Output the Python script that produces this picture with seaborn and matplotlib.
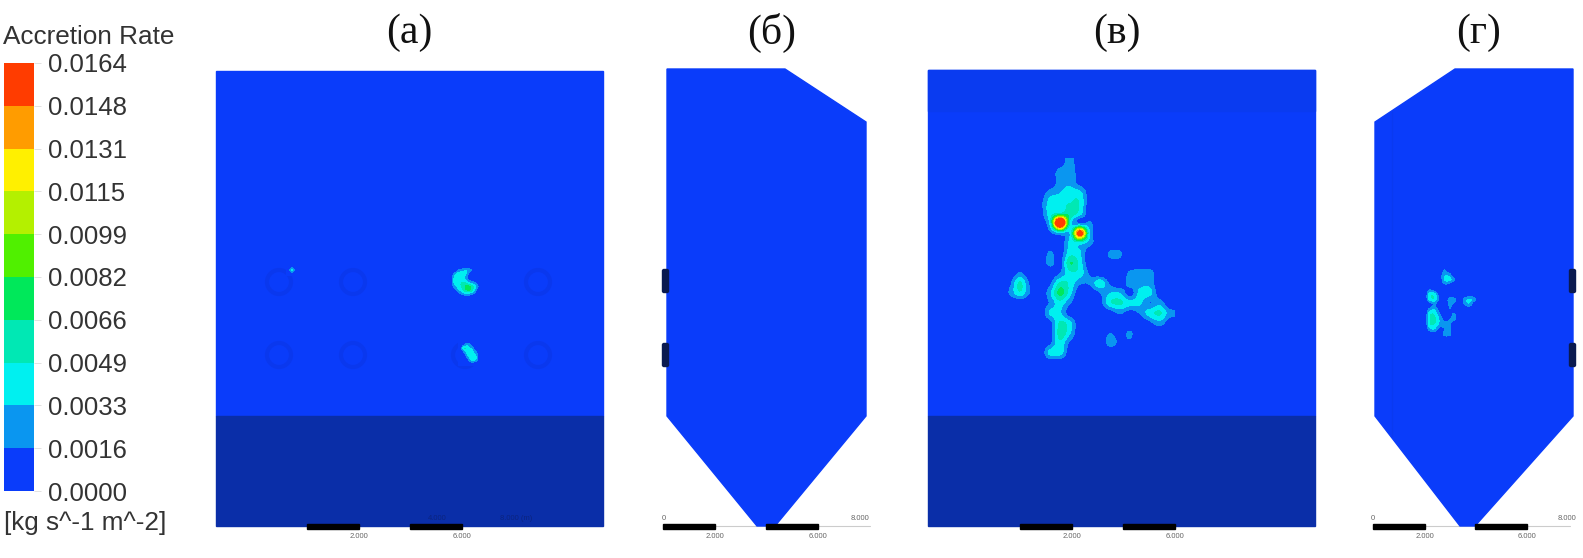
# Encoding: utf-8
"""
    usage:  accretion rate contours on four furnace wall views, with shared legend.
"""
import numpy as np
import seaborn as sns
import matplotlib

matplotlib.use("Agg")
import matplotlib.pyplot as plt
from matplotlib.colors import ListedColormap, BoundaryNorm
from matplotlib.patches import Circle, Polygon, Rectangle, FancyBboxPatch

# legend
legend_title = "Accretion Rate"
legend_unit = "[kg s^-1 m^-2]"
tick_labels = ["0.0000", "0.0016", "0.0033", "0.0049", "0.0066", "0.0082",
               "0.0099", "0.0115", "0.0131", "0.0148", "0.0164"]
band_colors = ["#0a3cfa", "#0a96f0", "#00f0f0", "#00e8b4", "#00e85a",
               "#50f000", "#b4f000", "#fff000", "#ff9c00", "#ff3c00"]
panel_titles = ["(а)", "(б)", "(в)", "(г)"]

# accretion rate, in units of one legend band
tiny_a = [[0, 0.3, 0],
          [0.4, 2.6, 0.4],
          [0, 0.3, 0]]
pacman_a = [[0, 0, 0, 0, 0, 0, 0, 0, 0],
            [0, 0, 1.2, 1.6, 2.0, 1.4, 0.5, 0, 0],
            [0, 1.5, 2.6, 2.8, 2.2, 0.6, 0.2, 0, 0],
            [0, 2.2, 2.8, 2.8, 1.6, 0.3, 0.2, 0, 0],
            [0, 2.4, 2.8, 3.0, 2.8, 1.8, 1.2, 0.4, 0],
            [0, 1.6, 2.6, 3.2, 4.2, 4.0, 2.8, 1.2, 0],
            [0, 0.6, 1.8, 2.8, 4.0, 4.2, 2.6, 0.7, 0],
            [0, 0, 0.6, 1.4, 2.0, 1.8, 1.0, 0, 0],
            [0, 0, 0, 0, 0, 0, 0, 0, 0]]
oval_a = [[0, 0, 0, 0, 0, 0],
          [0, 0.8, 1.6, 0.6, 0, 0],
          [0.2, 3.0, 2.4, 1.8, 0.4, 0],
          [0, 1.4, 2.8, 2.6, 1.3, 0],
          [0, 0.3, 2.2, 2.9, 2.2, 0],
          [0, 0, 1.0, 2.6, 2.0, 0],
          [0, 0, 0, 0.3, 0.2, 0]]
field_c = [
    [0, 0, 0, 0, 0, 0, 0.5, 1.4, 0.3, 0, 0, 0, 0, 0, 0, 0, 0, 0],
    [0, 0, 0, 0, 0, 0.2, 1.6, 1.7, 0.4, 0, 0, 0, 0, 0, 0, 0, 0, 0],
    [0, 0, 0, 0, 0, 0.2, 1.5, 1.8, 0.6, 0, 0, 0, 0, 0, 0, 0, 0, 0],
    [0, 0, 0, 0, 0.2, 1.6, 2.0, 2.6, 2.4, 0.3, 0, 0, 0, 0, 0, 0, 0, 0],
    [0, 0, 0, 0, 0.6, 2.5, 2.6, 3.0, 2.9, 0.2, 0, 0, 0, 0, 0, 0, 0, 0],
    [0, 0, 0, 0, 0.4, 2.6, 3.0, 3.8, 2.6, 0.1, 0, 0, 0, 0, 0, 0, 0, 0],
    [0, 0, 0, 0, 0.3, 2.6, 13.5, 3.0, 1.0, 1.2, 0, 0, 0, 0, 0, 0, 0, 0],
    [0, 0, 0, 0, 0, 0.8, 2.2, 2.2, 10.5, 2.0, 0.1, 0, 0, 0, 0, 0, 0, 0],
    [0, 0, 0, 0, 0, 0.1, 0, 2.4, 2.6, 1.5, 0.1, 0, 0, 0, 0, 0, 0, 0],
    [0, 0, 0, 0, 0, 1.2, 0.4, 2.6, 2.2, 0, 0, 1.2, 1.2, 0, 0, 0, 0, 0],
    [0, 0, 0, 0, 0, 1.4, 0.6, 4.0, 2.6, 0, 0, 0.6, 0.6, 0, 0, 0, 0, 0],
    [0, 0, 1.2, 0, 0, 0.2, 1.0, 2.8, 2.6, 0.8, 0, 0, 0, 1.3, 1.6, 1.6, 0, 0],
    [0, 0.8, 3.2, 0.8, 0, 0.8, 3.2, 2.8, 1.3, 1.2, 2.8, 0.8, 0.1, 1.6, 1.6, 1.6, 0, 0],
    [0, 1.2, 2.8, 1.0, 0, 1.8, 4.4, 2.5, 0, 0.1, 1.0, 2.0, 2.0, 0.5, 2.4, 2.4, 0.3, 0],
    [0, 0, 0, 0, 0, 1.2, 2.6, 1.2, 0, 0, 0.6, 2.8, 3.2, 2.4, 2.2, 1.0, 1.6, 0],
    [0, 0, 0, 0, 0, 2.2, 2.2, 0.4, 0, 0, 0, 0.4, 1.2, 0.5, 1.2, 2.6, 3.2, 1.5],
    [0, 0, 0, 0, 0, 0.6, 3.2, 2.4, 0, 0, 0, 0, 0, 0, 0, 0.8, 1.6, 0.3],
    [0, 0, 0, 0, 0, 0.4, 3.6, 2.2, 0, 0, 0, 1.0, 0.4, 1.2, 0, 0, 0, 0],
    [0, 0, 0, 0, 0, 0.8, 2.8, 0.8, 0, 0, 0, 1.5, 0.7, 0.7, 0, 0, 0, 0],
    [0, 0, 0, 0, 0, 2.4, 2.6, 0.3, 0, 0, 0, 0, 0, 0, 0, 0, 0, 0],
    [0, 0, 0, 0, 0, 0, 0, 0, 0, 0, 0, 0, 0, 0, 0, 0, 0, 0],
]
field_d = [
    [0, 0, 0, 0, 1.0, 0, 0, 0, 0, 0, 0, 0, 0],
    [0, 0, 0, 0.4, 1.8, 1.6, 0, 0, 0, 0, 0, 0, 0],
    [0, 0, 0, 0.2, 2.2, 2.4, 1.2, 0, 0, 0, 0, 0, 0],
    [0, 0, 0, 0, 1.0, 0.8, 0, 0, 0, 0, 0, 0, 0],
    [0, 1.0, 0.6, 0, 0, 0, 0, 0, 0, 0, 0, 0, 0],
    [0, 2.6, 2.6, 0.6, 0, 0, 0, 0, 0, 0.6, 0.4, 0, 0],
    [0, 2.4, 2.8, 0.8, 0, 1.6, 1.4, 0, 1.6, 2.2, 1.4, 0, 0],
    [0, 0.4, 1.2, 0.2, 0, 1.2, 0.8, 0, 1.2, 1.8, 0.2, 0, 0],
    [0, 1.6, 2.0, 0.6, 0, 1.0, 0.4, 0, 0, 0, 0, 0, 0],
    [0, 2.8, 3.0, 1.4, 0, 0.6, 1.2, 0, 0, 0, 0, 0, 0],
    [0, 2.9, 3.2, 2.0, 0.8, 1.0, 1.3, 0, 0, 0, 0, 0, 0],
    [0, 2.8, 3.0, 1.8, 1.3, 1.3, 0.2, 0, 0, 0, 0, 0, 0],
    [0, 1.6, 2.0, 0.6, 1.0, 1.3, 0, 0, 0, 0, 0, 0, 0],
    [0, 0, 0.2, 0, 1.4, 1.4, 0, 0, 0, 0, 0, 0, 0],
    [0, 0, 0, 0, 0, 0, 0, 0, 0, 0, 0, 0, 0],
]

BASE = band_colors[0]
HOPPER = "#0a2ea8"
cmap = ListedColormap(band_colors)
norm = BoundaryNorm(np.arange(0, 11), cmap.N, clip=True)

sns.set_theme(style="white")
plt.rcParams["font.family"] = ["Liberation Sans", "DejaVu Sans"]

fig = plt.figure(figsize=(15.83, 5.58), dpi=100)
ax = fig.add_axes([0, 0, 1, 1])


def draw_field(values, x0, x1, y0, y1):
    # x0..y1 are the centres of the outer cells, in picture pixels
    values = np.array(values, dtype=float)
    dx = (x1 - x0) / (values.shape[1] - 1) / 2
    dy = (y1 - y0) / (values.shape[0] - 1) / 2
    ax.imshow(
        values, cmap=cmap, norm=norm, aspect="auto", origin="upper",
        interpolation="catrom", interpolation_stage="data",
        extent=(x0 - dx, x1 + dx, y1 + dy, y0 - dy), zorder=3,
    )


def scale_bar(x_a, x_b, corner_labels):
    for x in (x_a, x_b):
        ax.add_patch(Rectangle((x, 524), 52, 5, color="black", zorder=5))
    ax.text(x_a + 52, 536, "2.000", fontsize=5.5, color="#666666", ha="center", va="center", zorder=6)
    ax.text(x_b + 52, 536, "6.000", fontsize=5.5, color="#666666", ha="center", va="center", zorder=6)
    for x, label, color in corner_labels:
        ax.text(x, 518, label, fontsize=5.5, color=color, ha="center", va="center", zorder=6)


def nub(x, y):
    ax.add_patch(FancyBboxPatch((x, y), 3, 20, boxstyle="round,pad=1.5", color="#0a1a50", zorder=1))


# panel a: front wall with burners and a darker hopper
ax.add_patch(Rectangle((216, 71), 387, 345, color=BASE, zorder=1))
ax.add_patch(Rectangle((216, 416), 387, 110, color=HOPPER, zorder=1))
for cx in (279, 353, 465, 538):
    for cy in (282, 355):
        ax.add_patch(Circle((cx, cy), 12, fill=False, ec="#0a38ee", lw=3, zorder=2))
draw_field(tiny_a, 288, 296, 266, 274)
draw_field(pacman_a, 450, 482, 266, 298)
draw_field(oval_a, 460, 480, 340, 364)
scale_bar(307, 410, [(437, "4.000", "#0a2480"), (516, "8.000 (m)", "#0a2480")])

# panel b: side wall
ax.add_patch(Polygon([(667, 69), (785, 69), (866, 122), (866, 416), (775, 526), (757, 526), (667, 416)],
                     closed=True, color=BASE, zorder=1))
nub(664, 271)
nub(664, 345)
scale_bar(663, 766, [(664, "0", "#666666"), (860, "8.000", "#666666")])
ax.plot([663, 870], [526, 526], color="#cccccc", lw=0.8, zorder=0)

# panel c: back wall
ax.add_patch(Rectangle((928, 70), 387, 346, color=BASE, zorder=1))
ax.add_patch(Rectangle((928, 70), 387, 41, color="#0a3bf0", zorder=1))
ax.add_patch(Rectangle((928, 416), 387, 110, color=HOPPER, zorder=1))
draw_field(field_c, 1000, 1170, 163, 363)
scale_bar(1020, 1123, [])

# panel d: mirrored side wall
ax.add_patch(Polygon([(1375, 122), (1455, 69), (1573, 69), (1573, 416), (1475, 526), (1460, 526), (1375, 416)],
                     closed=True, color=BASE, zorder=1))
ax.plot([1392, 1392], [112, 436], color="#0a3af0", lw=1, zorder=2)
nub(1571, 271)
nub(1571, 345)
draw_field(field_d, 1425, 1485, 270, 340)
scale_bar(1373, 1475, [(1373, "0", "#666666"), (1567, "8.000", "#666666")])
ax.plot([1373, 1570], [526, 526], color="#cccccc", lw=0.8, zorder=0)

for cx, title in zip((409, 772, 1117, 1479), panel_titles):
    ax.text(cx, 33, title, family="Liberation Serif", fontsize=30, color="#111111", ha="center", va="center")

ax.text(3, 37, legend_title, fontsize=18.8, color="#333333", ha="left", va="center")
ax.text(4, 523, legend_unit, fontsize=18.8, color="#333333", ha="left", va="center")
ax.set_xlim(0, 1583)
ax.set_ylim(558, 0)
ax.axis("off")

# legend column, top band is the highest rate
cax = fig.add_axes([4 / 1583, 1 - 491 / 558, 30 / 1583, 428 / 558])
levels = np.arange(len(band_colors))[::-1].reshape(-1, 1)
sns.heatmap(levels, ax=cax, cmap=ListedColormap(band_colors), cbar=False, xticklabels=False,
            yticklabels=False, vmin=-0.5, vmax=9.5)
cax.yaxis.tick_right()
cax.set_yticks(np.arange(len(tick_labels)))
cax.set_yticklabels(tick_labels[::-1], rotation=0, fontsize=18.5, color="#333333")
cax.tick_params(axis="y", length=5, width=0.6, color="#dddddd", pad=5, right=True, left=False)

fig.savefig("out.png", dpi=100)
